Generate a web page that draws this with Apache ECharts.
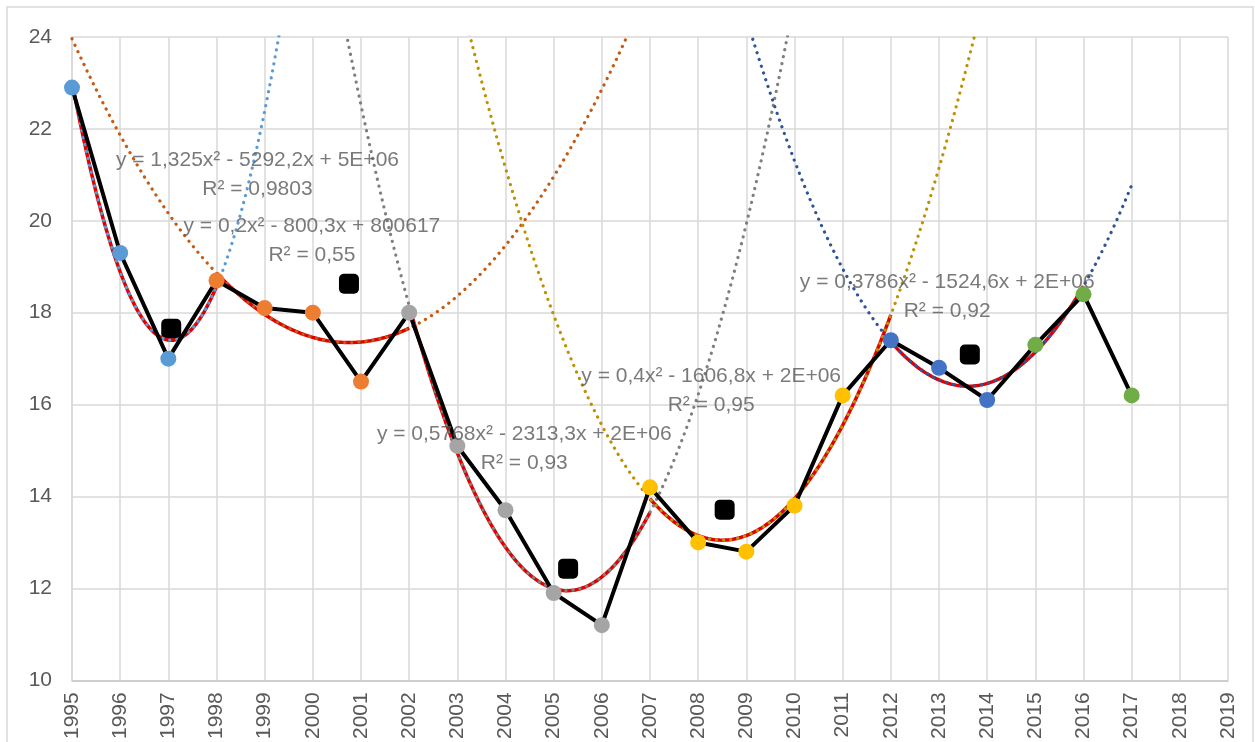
<!DOCTYPE html>
<html><head><meta charset="utf-8">
<script src="https://cdn.jsdelivr.net/npm/echarts@6/dist/echarts.min.js"></script>
<style>html,body{margin:0;padding:0;background:#fff}#c{width:1255px;height:742px}</style>
</head><body><div id="c"></div>
<script>
// ---- data ----
const years = [1995,1996,1997,1998,1999,2000,2001,2002,2003,2004,2005,2006,2007,2008,2009,2010,2011,2012,2013,2014,2015,2016,2017];
const values = [22.9,19.3,17.0,18.7,18.1,18.0,16.5,18.0,15.1,13.7,11.9,11.2,14.2,13.0,12.8,13.8,16.2,17.4,16.8,16.1,17.3,18.4,16.2];
const pointGroup = [0,0,0,1,1,1,1,2,2,2,2,2,3,3,3,3,3,4,4,4,5,5,5];
const squareX = [1997.06,2000.75,2005.30,2008.55,2013.64];
const squareY = [17.65,18.63,12.43,13.71,17.09];
const xTickLabels = ['1995','1996','1997','1998','1999','2000','2001','2002','2003','2004','2005','2006','2007','2008','2009','2010','2011','2012','2013','2014','2015','2016','2017','2018','2019'];
const yTickLabels = ['10','12','14','16','18','20','22','24'];

// trendlines (second-order polynomials): y = a (x - xv)^2 + yv
const trendA = [1.325,0.2,0.5768,0.4,0.3786];
const trendVertexX = [1997.06,2000.75,2005.28,2008.5,2013.6];
const trendVertexY = [17.40,17.35,11.95,13.05,16.40];
const trendFitFrom = [1995,1998,2002,2007,2012];
const trendFitTo = [1998,2002,2007,2012,2016];
const trendDrawFrom = [1995,1995,2000,2002,2008];
const trendDrawTo = [2000,2007,2011,2015,2017];
const trendEquations = ['y = 1,325x² - 5292,2x + 5E+06','y = 0,2x² - 800,3x + 800617','y = 0,5768x² - 2313,3x + 2E+06','y = 0,4x² - 1606,8x + 2E+06','y = 0,3786x² - 1524,6x + 2E+06'];
const trendR2 = ['R² = 0,9803','R² = 0,55','R² = 0,93','R² = 0,95','R² = 0,92'];

// ---- styles / layout ----
const groupColors = ['#5B9BD5','#ED7D31','#A5A5A5','#FFC000','#4472C4','#70AD47'];
const trendColors = ['#5B9BD5','#C55A11','#7F7F7F','#BF9000','#2F5597'];
const labelAnchorX = [1998.85,1999.98,2004.39,2008.27,2013.17];
const labelAnchorY = [21.01,19.57,15.04,16.31,18.34];
const FONT = 'Liberation Sans';
const TXT = '#595959';

function curve(i, from, to) {
  const pts = [];
  const step = 0.05;
  for (let x = from; x <= to + 1e-9; x += step) {
    const xx = Math.round(x * 1000) / 1000;
    pts.push([xx, trendA[i] * Math.pow(xx - trendVertexX[i], 2) + trendVertexY[i]]);
  }
  return pts;
}

const series = [];
// black squares
series.push({
  type: 'scatter', z: 1, symbol: 'roundRect', symbolSize: 20,
  itemStyle: { color: '#000', opacity: 1 },
  data: squareX.map((x, i) => [x, squareY[i]]), silent: true
});
// red fitted curves
trendA.forEach((a, i) => {
  series.push({
    type: 'line', z: 2, showSymbol: false, silent: true,
    lineStyle: { color: '#E00000', width: 3.5 },
    data: curve(i, trendFitFrom[i], trendFitTo[i])
  });
});
// dotted trend lines
trendA.forEach((a, i) => {
  series.push({
    type: 'line', z: 3, showSymbol: false, silent: true,
    lineStyle: { color: trendColors[i], width: 3.2, type: [0.1, 7], cap: 'round' },
    data: curve(i, trendDrawFrom[i], trendDrawTo[i])
  });
});
// main black line with coloured markers
series.push({
  type: 'line', z: 4, symbol: 'circle', symbolSize: 16, silent: true,
  lineStyle: { color: '#000', width: 4 },
  itemStyle: { color: (p) => groupColors[pointGroup[p.dataIndex]], opacity: 1 },
  data: years.map((y, i) => [y, values[i]])
});
// equation labels
trendEquations.forEach((eq, i) => {
  series.push({
    type: 'scatter', z: 5, symbolSize: 0, silent: true,
    label: {
      show: true, position: 'inside', formatter: eq + '\n' + trendR2[i],
      color: TXT, fontFamily: FONT, fontSize: 21, lineHeight: 29, align: 'center'
    },
    data: [[labelAnchorX[i], labelAnchorY[i]]]
  });
});

const chart = echarts.init(document.getElementById('c'));
chart.setOption({
  animation: false,
  backgroundColor: '#fff',
  graphic: [{
    type: 'rect', shape: { x: 7, y: 7, width: 1246, height: 800 },
    style: { fill: 'none', stroke: '#D9D9D9', lineWidth: 1.5 }, silent: true
  }],
  grid: { left: 72, right: 27, top: 37, bottom: 59, containLabel: false },
  xAxis: {
    type: 'value', min: 1995, max: 2019, interval: 1,
    axisLine: { show: true, lineStyle: { color: '#C8C8C8', width: 1.5 } },
    axisTick: { show: false },
    splitLine: { show: true, lineStyle: { color: '#D9D9D9', width: 1.5 } },
    axisLabel: {
      rotate: 90, margin: 12, color: TXT, fontFamily: FONT, fontSize: 21,
      formatter: (v) => xTickLabels[Math.round(v - 1995)] || ''
    }
  },
  yAxis: {
    type: 'value', min: 10, max: 24, interval: 2,
    axisLine: { show: true, lineStyle: { color: '#D9D9D9', width: 1.5 } },
    axisTick: { show: false },
    splitLine: { show: true, lineStyle: { color: '#D9D9D9', width: 1.5 } },
    axisLabel: {
      margin: 20, color: TXT, fontFamily: FONT, fontSize: 21,
      formatter: (v) => yTickLabels[Math.round((v - 10) / 2)] || ''
    }
  },
  series: series
});
</script>
</body></html>
